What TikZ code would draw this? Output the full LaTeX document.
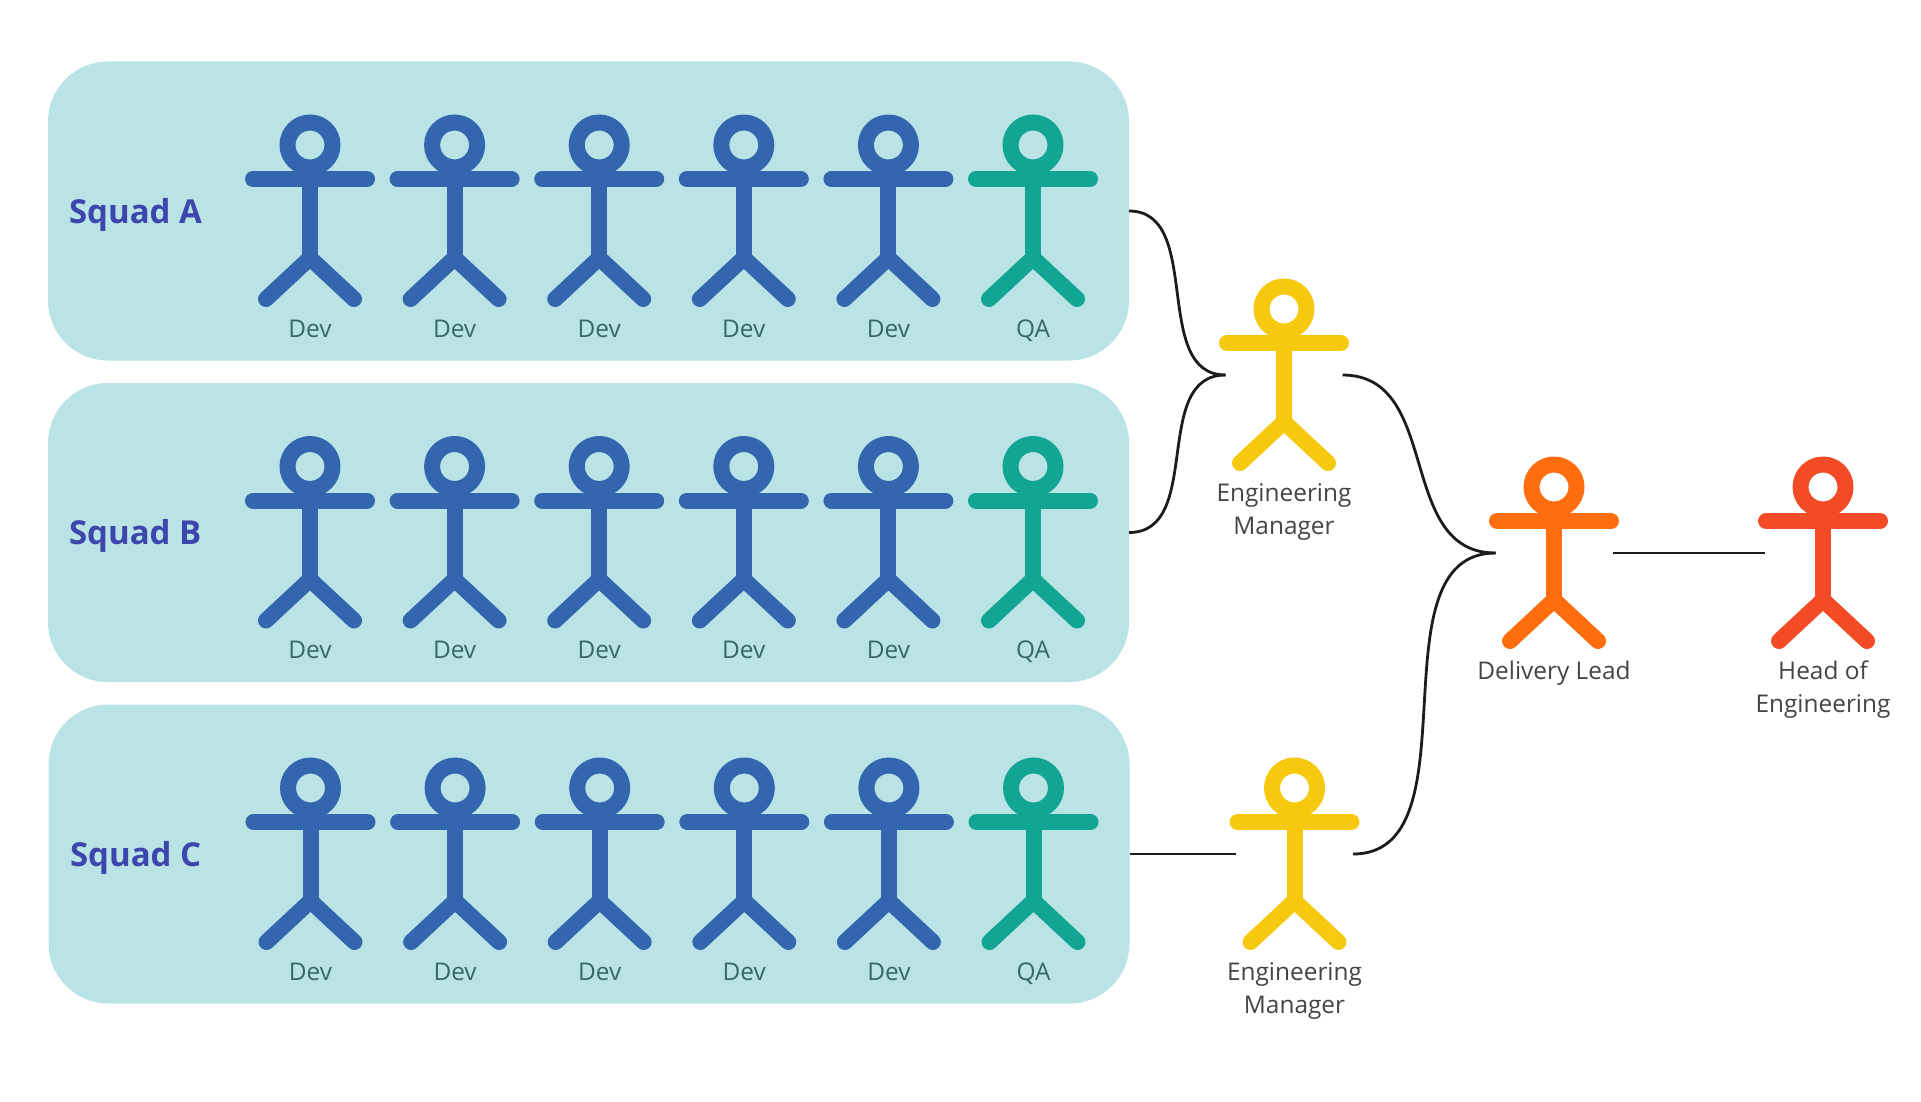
\documentclass[tikz,border=0pt]{standalone}
\usepackage{fontspec}
\setmainfont{Open Sans}
\definecolor{panelc}{HTML}{B9E3E4}
\definecolor{devc}{HTML}{3366AE}
\definecolor{qac}{HTML}{12A594}
\definecolor{emc}{HTML}{F6C90E}
\definecolor{dlc}{HTML}{FF6D0F}
\definecolor{hoec}{HTML}{F24B25}
\definecolor{squadc}{HTML}{3D46AC}
\definecolor{onpanel}{HTML}{3A6665}
\definecolor{offpanel}{HTML}{444444}
\definecolor{linkc}{HTML}{1C1C1C}
\tikzset{
  panel/.style={fill=panelc,draw=none,rounded corners=30pt,minimum width=540.5pt,minimum height=149.5pt,inner sep=0pt,outer sep=0pt},
  squadlabel/.style={anchor=base west,inner sep=0pt,outer sep=0pt,text=squadc,font=\fontsize{16.5}{19}\selectfont\bfseries},
  hub/.style={draw=none,fill=none,minimum width=58.5pt,minimum height=5pt,inner sep=0pt,outer sep=0pt},
  actorline/.style={line width=8pt,line cap=round,line join=round},
  rolelabel/.style={anchor=north,inner sep=0pt,outer sep=0pt,align=center,font=\fontsize{12.2}{16.5}\selectfont},
  link/.style={draw=linkc,line width=1.4pt},
}
% name, centre x, arm y, colour, label colour, label
\newcommand{\actorfig}[6]{%
  \draw[actorline,draw=#4] (#2,#3-34) circle[radius=11.25pt];
  \draw[actorline,draw=#4] (#2-57,#3) -- (#2+57,#3);
  \draw[actorline,draw=#4,line cap=butt] (#2,#3) -- (#2,#3+80);
  \draw[actorline,draw=#4] (#2-44,#3+120) -- (#2,#3+79) -- (#2+44,#3+120);
  \node[hub] (#1) at (#2,#3+32) {};
  \node[rolelabel,text=#5] (#1-label) at (#2,#3+135) {\strut #6};
}
\newcommand{\squadrow}[4]{%
  \actorfig{#1d1}{#2}{#3}{devc}{onpanel}{Dev}
  \actorfig{#1d2}{#2+144.6}{#3}{devc}{onpanel}{Dev}
  \actorfig{#1d3}{#2+289.2}{#3}{devc}{onpanel}{Dev}
  \actorfig{#1d4}{#2+433.8}{#3}{devc}{onpanel}{Dev}
  \actorfig{#1d5}{#2+578.4}{#3}{devc}{onpanel}{Dev}
  \actorfig{#1q}{#2+723}{#3}{qac}{onpanel}{QA}
}
\begin{document}
\begin{tikzpicture}[x=0.5pt,y=-0.5pt]
\useasboundingbox (0,0) rectangle (1921,1102);
\node[panel] (squadA) at (588.5,211) {};
\node[panel] (squadB) at (588.5,532.5) {};
\node[panel] (squadC) at (589,854) {};
\node[squadlabel] (labelA) at (69,223) {Squad A};
\node[squadlabel] (labelB) at (69,544.5) {Squad B};
\node[squadlabel] (labelC) at (70,866) {Squad C};
\squadrow{a}{310}{179}{}
\squadrow{b}{310}{500.5}{}
\squadrow{c}{310.5}{822}{}
\actorfig{emone}{1284}{343}{emc}{offpanel}{Engineering\\Manager}
\actorfig{emtwo}{1294.5}{822}{emc}{offpanel}{Engineering\\Manager}
\actorfig{lead}{1554}{521}{dlc}{offpanel}{Delivery Lead}
\actorfig{head}{1823}{521}{hoec}{offpanel}{Head of\\Engineering}
\draw[link] (squadA.east) .. controls +(75,0) and +(-75,0) .. (emone.west);
\draw[link] (squadB.east) .. controls +(75,0) and +(-75,0) .. (emone.west);
\draw[link] (squadC.east) -- (emtwo.west);
\draw[link] (emone.east) .. controls +(100,0) and +(-100,0) .. (lead.west);
\draw[link] (emtwo.east) .. controls +(125,0) and +(-125,0) .. (lead.west);
\draw[link] (lead.east) -- (head.west);
\end{tikzpicture}
\end{document}
